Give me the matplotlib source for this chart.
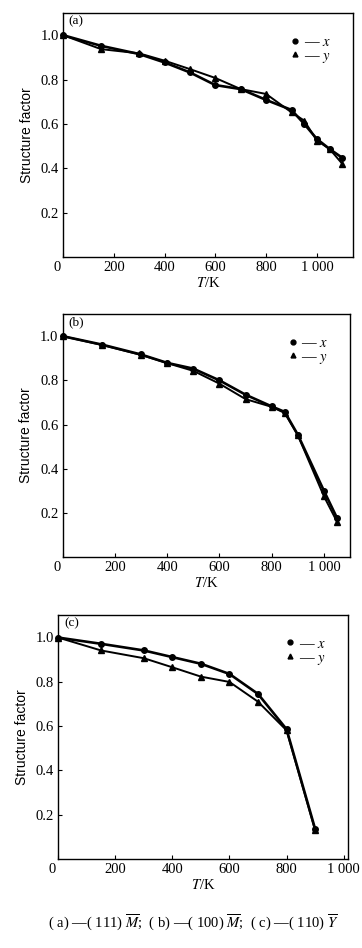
import matplotlib
matplotlib.use("Agg")
import matplotlib.pyplot as plt
from matplotlib.lines import Line2D

plt.rcParams['font.family'] = ['Liberation Serif', 'DejaVu Serif']
plt.rcParams['mathtext.fontset'] = 'stix'

# (a)
Ta_x = [0, 150, 300, 400, 500, 600, 700, 800, 900, 950, 1000, 1050, 1100]
Fa_x = [1.0, 0.952, 0.915, 0.877, 0.832, 0.775, 0.757, 0.708, 0.663, 0.600, 0.532, 0.487, 0.447]
Ta_y = [0, 150, 300, 400, 500, 600, 700, 800, 900, 950, 1000, 1050, 1100]
Fa_y = [1.0, 0.937, 0.918, 0.885, 0.847, 0.807, 0.757, 0.735, 0.652, 0.615, 0.525, 0.487, 0.42]

# (b)
Tb = [0, 150, 300, 400, 500, 600, 700, 800, 850, 900, 1000, 1050]
Fb_x = [1.0, 0.962, 0.917, 0.879, 0.853, 0.800, 0.735, 0.682, 0.657, 0.554, 0.300, 0.177]
Fb_y = [1.0, 0.960, 0.915, 0.878, 0.843, 0.785, 0.715, 0.680, 0.652, 0.552, 0.275, 0.160]

# (c)
Tc = [0, 150, 300, 400, 500, 600, 700, 800, 900]
Fc_x = [0.998, 0.970, 0.940, 0.910, 0.880, 0.834, 0.744, 0.585, 0.136]
Fc_y = [0.998, 0.940, 0.905, 0.864, 0.822, 0.798, 0.709, 0.580, 0.130]

panels = [
    ("(a)", Ta_x, Fa_x, Ta_y, Fa_y, [0.174, 0.7289, 0.801, 0.2574], 1142),
    ("(b)", Tb, Fb_x, Tb, Fb_y, [0.173, 0.4124, 0.794, 0.2563], 1100),
    ("(c)", Tc, Fc_x, Tc, Fc_y, [0.161, 0.0939, 0.800, 0.2574], 1015),
]

fig = plt.figure(figsize=(3.62, 9.48), dpi=100)

for tag, tx, fx, ty, fy, rect, xmax in panels:
    ax = fig.add_axes(rect)
    ax.plot(tx, fx, color='black', lw=1.9, marker='o', ms=4, clip_on=False)
    ax.plot(ty, fy, color='black', lw=1.4, marker='^', ms=4, clip_on=False)
    ax.set_xlim(0, xmax)
    ax.set_ylim(0, 1.1)
    ax.set_xticks([0, 200, 400, 600, 800, 1000])
    ax.set_xticklabels(['', '200', '400', '600', '800', '1 000'])
    ax.set_yticks([0.2, 0.4, 0.6, 0.8, 1.0])
    ax.set_yticklabels(['0.2', '0.4', '0.6', '0.8', '1.0'])
    ax.tick_params(direction='in', length=3, width=0.8, labelsize=10.5, pad=3)
    for s in ax.spines.values():
        s.set_linewidth(1.0)
    ax.text(-0.02, -0.017, '0', transform=ax.transAxes, fontsize=10.5,
            ha='center', va='top')
    ax.set_xlabel(r'$T$/K', fontsize=10.5, labelpad=1)
    ax.set_ylabel('Structure factor', fontsize=10,
                  family=['Liberation Sans Narrow', 'Liberation Sans', 'DejaVu Sans'],
                  labelpad=5)
    ax.text(0.02, 0.99, tag, transform=ax.transAxes, fontsize=9.5,
            ha='left', va='top')
    handles = [Line2D([], [], color='black', marker='o', ls='none', ms=3.5),
               Line2D([], [], color='black', marker='^', ls='none', ms=3.5)]
    ax.legend(handles, [r'— $x$', r'— $y$'], loc='upper right',
              bbox_to_anchor=(0.96, 0.95), frameon=False, fontsize=10.5,
              handlelength=0.6, handletextpad=0.3, labelspacing=0.05,
              borderpad=0.2)

fig.text(0.535, 0.027,
         r'( a) —( 111) $\overline{M}$;  ( b) —( 100) $\overline{M}$;  ( c) —( 110) $\overline{Y}$',
         ha='center', va='center', fontsize=10.5)

fig.savefig('out.png', dpi=100)
